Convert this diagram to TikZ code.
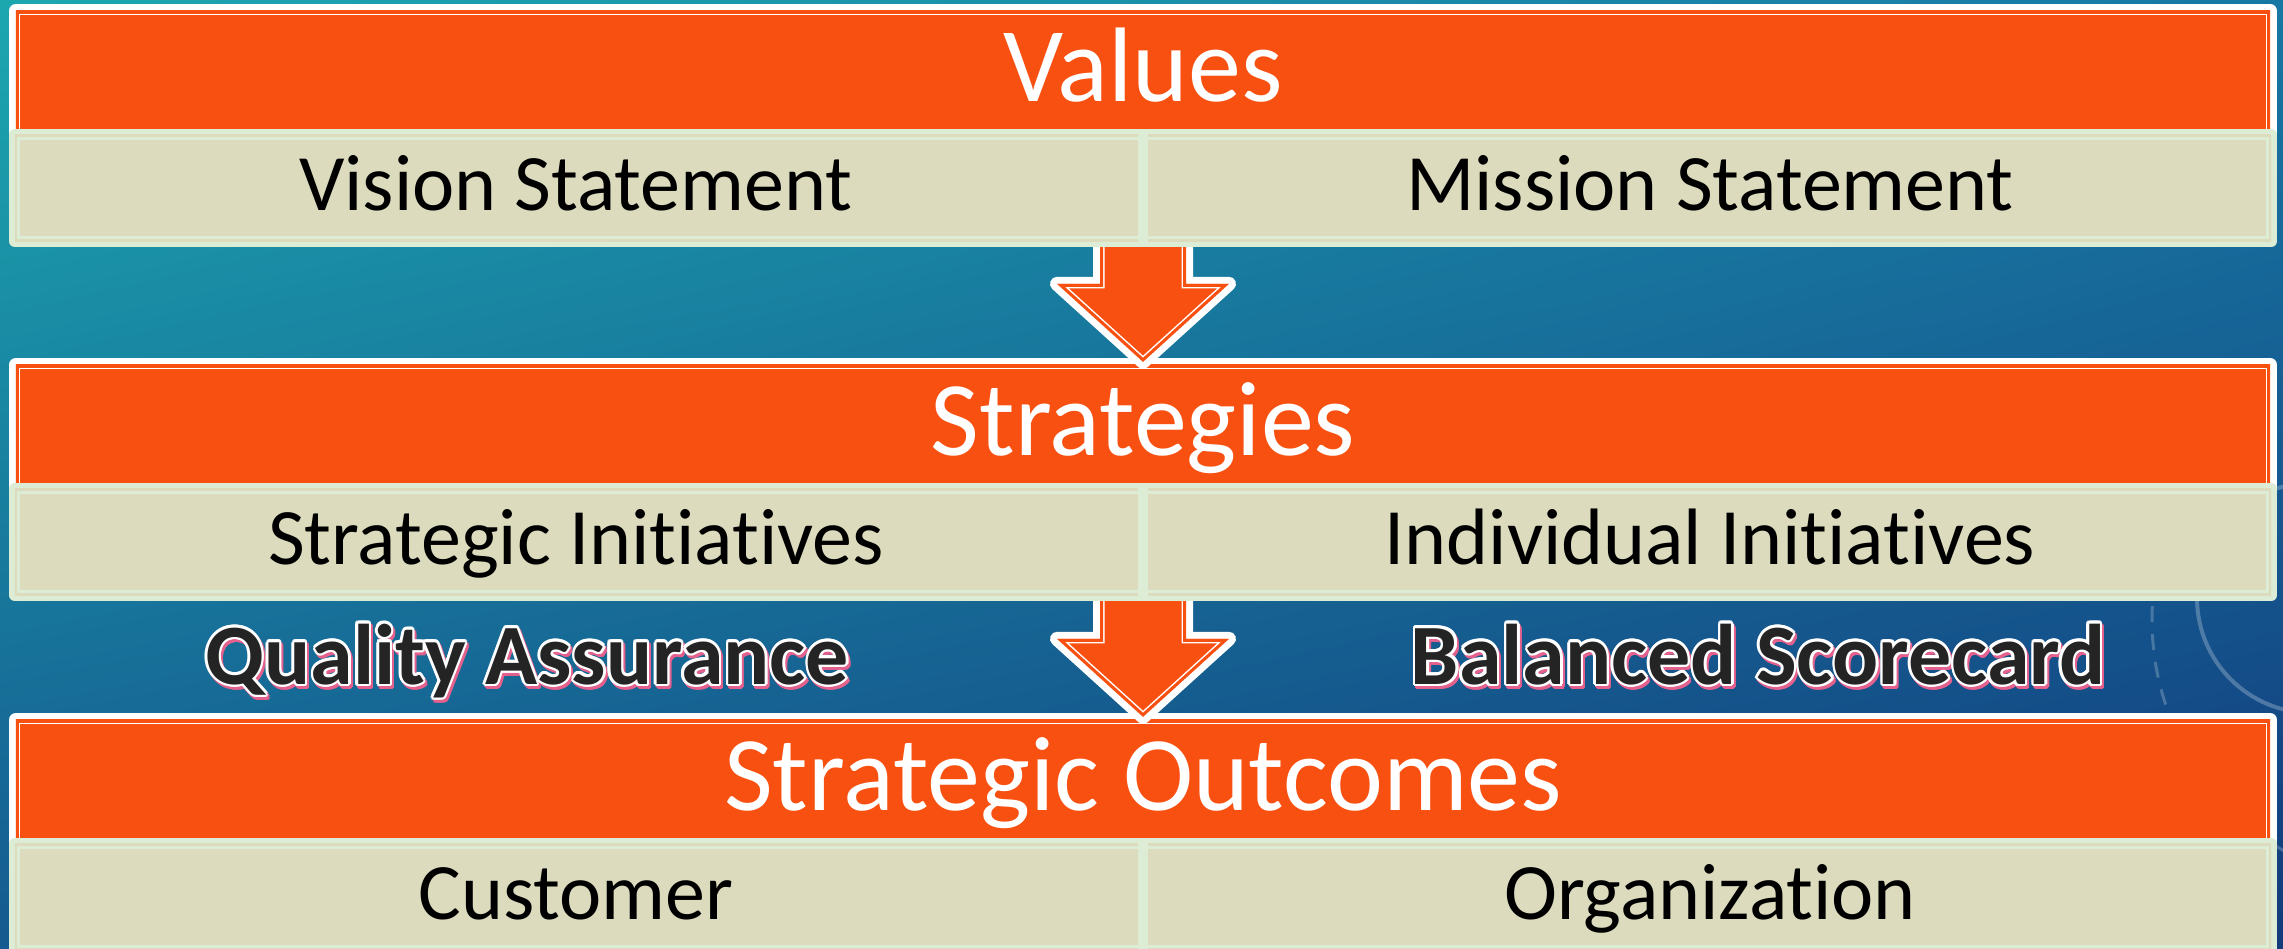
\documentclass[tikz,border=0pt]{standalone}
\usepackage{fontspec}
\setmainfont{Carlito}[Ligatures=NoCommon]
\usepackage{tikz}
\usetikzlibrary{shadings}

\definecolor{brand}{HTML}{F85011}
\definecolor{sand}{HTML}{DCDBBD}
\definecolor{rim}{HTML}{DDEDD5}
\definecolor{blush}{HTML}{E3618C}
\definecolor{ink}{HTML}{242424}
\definecolor{seaA}{HTML}{1CA7AF}
\definecolor{seaB}{HTML}{1878A4}
\definecolor{seaC}{HTML}{155A90}
\definecolor{seaD}{HTML}{123B7C}

\tikzstyle{titlebar} = [rectangle, minimum width=2254pt, minimum height=118pt, inner sep=0pt]
\tikzstyle{rowbar} = [rectangle, minimum width=2256pt, minimum height=106pt, inner sep=0pt]
\tikzstyle{titletext} = [font=\fontsize{106}{110}\selectfont, text=white, text height=68pt, text depth=0pt, inner sep=0pt]
\tikzstyle{rowtext} = [font=\fontsize{80}{84}\selectfont, text=black, text height=51pt, text depth=0pt, inner sep=0pt]
\tikzstyle{badge} = [font=\fontsize{86}{90}\selectfont\bfseries, text height=54pt, text depth=0pt, inner sep=0pt]

% outer band, fill, then a thin inner line: path, band, fill, line, band width, gap, line width
\newcommand{\edged}[7]{%
  \draw[#2, line width=2*#5, line join=round, use path=#1];
  \begin{scope}
    \clip[use path=#1];
    \fill[#3, use path=#1];
    \draw[#4, line width={2*(#6+#7)}, use path=#1];
    \draw[#3, line width=2*#6, use path=#1];
  \end{scope}}

% orange bar with its sand row underneath
\newcommand{\tierbody}[1]{%
  \path[save path=\framepath] (#1.north west) rectangle ([yshift=-15pt]#1.south east);
  \edged{\framepath}{white}{brand}{white}{7}{3}{1.5}
  \path[save path=\rowpath] (#1-row.north west) rectangle (#1-row.south east);
  \edged{\rowpath}{rim}{sand}{rim}{6}{2}{3}
  \draw[rim, line width=10pt, line cap=round] (#1-row.north) -- (#1-row.south);}

% block arrow from a row down into the next bar
\newcommand{\flowarrow}[2]{%
  \path[save path=\arrowpath] ([yshift=3pt]#2.north) -- ++(86,-78) -- ++(-43,0)
    -- ([xshift=43pt, yshift=15pt]#1.south) -- ([xshift=-43pt, yshift=15pt]#1.south)
    -- ([xshift=-43pt, yshift=81pt]#2.north) -- ++(-43,0) -- cycle;
  \edged{\arrowpath}{white}{brand}{white}{7}{3}{1.5}}

% bold label with white halo and pink drop shadow
\newcommand{\embossed}[4]{%
  \foreach \a in {0,30,...,330}
    \node[badge, text=blush, shift={(\a:2.5)}, xshift=2pt, yshift=-3pt] (#1-shadow-\a) at (#2,#3) {#4};
  \foreach \a in {0,30,...,330}
    \node[badge, text=white, shift={(\a:2.5)}] (#1-halo-\a) at (#2,#3) {#4};
  \node[badge, text=ink] (#1) at (#2,#3) {#4};}

\begin{document}
\begin{tikzpicture}[x=1pt, y=-1pt]
  \useasboundingbox (0,0) rectangle (2283,948);
  \shade[upper left=seaA, upper right=seaB, lower left=seaC, lower right=seaD] (0,0) rectangle (2283,948);
  \draw[white, opacity=.25, line width=4pt] (2312,598) circle (115);
  \draw[white, opacity=.22, line width=3pt, dash pattern=on 16pt off 12pt] (2420,620) circle (268);

  % bars and rows
  \foreach \lvl/\ytop in {values/4, strategies/358, outcomes/713} {
    \node[titlebar] (\lvl) at (1143,\ytop+66) {};
    \node[rowbar] (\lvl-row) at (1143,\ytop+184) {};
  }

  \tierbody{outcomes}
  \flowarrow{strategies-row}{outcomes}
  \tierbody{strategies}
  \flowarrow{values-row}{strategies}
  \tierbody{values}

  % texts
  \foreach \lvl/\head/\ltext/\rtext in {values/Values/Vision Statement/Mission Statement,
      strategies/Strategies/Strategic Initiatives/Individual Initiatives,
      outcomes/Strategic Outcomes/Customer/Organization} {
    \node[titletext] (\lvl-label) at ([yshift=3pt]\lvl.center) {\head};
    \node[rowtext] (\lvl-left) at ([xshift=-567pt, yshift=3pt]\lvl-row.center) {\ltext};
    \node[rowtext] (\lvl-right) at ([xshift=567pt, yshift=3pt]\lvl-row.center) {\rtext};
  }

  \embossed{quality}{527}{657}{Quality Assurance}
  \embossed{scorecard}{1758}{657}{Balanced Scorecard}
\end{tikzpicture}
\end{document}
